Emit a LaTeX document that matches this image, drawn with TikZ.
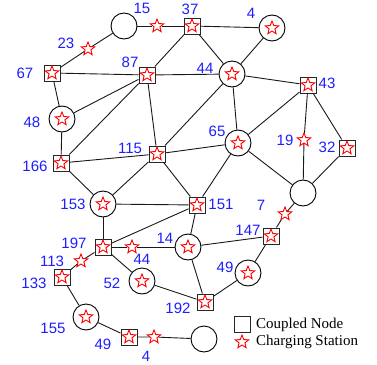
\documentclass[tikz,border=0pt]{standalone}
\usepackage{fontspec}
\setmainfont{Liberation Serif}
\newfontfamily\labfont{Liberation Sans}
\usetikzlibrary{shapes.geometric}
\definecolor{labblue}{RGB}{30,30,255}
\tikzset{
  sq/.style={draw=black!85, fill=white, minimum size=16pt, inner sep=0pt, line width=1pt},
  cir/.style={circle, draw=black, fill=white, minimum size=26pt, inner sep=0pt, line width=0.9pt},
  st/.style={star, star points=5, star point ratio=2.3, draw=red, fill=white, minimum size=14pt, inner sep=0pt, line width=0.9pt},
  lab/.style={text=labblue, font=\labfont\fontsize{15}{15}\selectfont, inner sep=0pt},
  edge/.style={draw=black!90, line width=0.9pt},
  leg/.style={font=\fontsize{15}{15}\selectfont, anchor=west, inner sep=0pt}
}
\begin{document}
\begin{tikzpicture}[x=1pt,y=-1pt]
\useasboundingbox (0,0) rectangle (377,364);
% nodes
\node[cir] (n15) at (124,26) {};
\node[sq] (n37) at (192,26) {};
\node[cir] (n4) at (272,28) {};
\node[st] (s1537) at (157,26) {};
\node[st] (n23) at (88,49) {};
\node[sq] (n67) at (52,73) {};
\node[sq] (n87) at (147,75) {};
\node[cir] (n44) at (232,74) {};
\node[sq] (n43) at (308,85) {};
\node[cir] (n48) at (62,119) {};
\node[cir] (n65) at (238,143) {};
\node[st] (n19) at (304,140) {};
\node[sq] (n32) at (347,148) {};
\node[sq] (n166) at (61,163) {};
\node[sq] (n115) at (157,154) {};
\node[cir] (nR) at (303,193) {};
\node[sq] (n151) at (197,205) {};
\node[cir] (n153) at (103,204) {};
\node[st] (n7) at (285,214) {};
\node[sq] (n147) at (271,236) {};
\node[cir] (n14) at (188,247) {};
\node[sq] (n197) at (103,247) {};
\node[st] (s44b) at (132,247) {};
\node[st] (n113) at (81,261) {};
\node[sq] (n133) at (62,277) {};
\node[cir] (n52) at (142,281) {};
\node[cir] (n49c) at (248,273) {};
\node[sq] (n192) at (205,302) {};
\node[cir] (n155) at (86,317) {};
\node[sq] (n49s) at (129,337) {};
\node[st] (s4b) at (154,337) {};
\node[cir] (nE) at (204,339) {};
% stars inside nodes
\foreach \n in {n37,n4,n67,n87,n44,n43,n48,n65,n32,n166,n115,n151,n153,n147,n14,n197,n133,n52,n49c,n192,n155,n49s}
  \node[st] at (\n.center) {};
% edges
\draw[edge] (n15) -- (s1537) -- (n37);
\draw[edge] (n15) -- (n23) -- (n67);
\draw[edge] (n37) -- (n4);
\draw[edge] (n37) -- (n44);
\draw[edge] (n4) -- (n44);
\draw[edge] (n87) -- (n37);
\draw[edge] (n67) -- (n87);
\draw[edge] (n67) -- (n48);
\draw[edge] (n48) -- (n87);
\draw[edge] (n48) -- (n166);
\draw[edge] (n87) -- (n44);
\draw[edge] (n87) -- (n166);
\draw[edge] (n87) -- (n115);
\draw[edge] (n44) -- (n43);
\draw[edge] (n44) -- (n65);
\draw[edge] (n44) -- (n115);
\draw[edge] (n43) -- (n65);
\draw[edge] (n43) -- (n19) -- (nR);
\draw[edge] (n43) -- (n32);
\draw[edge] (n32) -- (nR);
\draw[edge] (n65) -- (n115);
\draw[edge] (n65) -- (nR);
\draw[edge] (n65) -- (n151);
\draw[edge] (n115) -- (n166);
\draw[edge] (n115) -- (n153);
\draw[edge] (n115) -- (n151);
\draw[edge] (n166) -- (n153);
\draw[edge] (n153) -- (n151);
\draw[edge] (n153) -- (n197);
\draw[edge] (n197) -- (n151);
\draw[edge] (n197) -- (s44b) -- (n14);
\draw[edge] (n197) -- (n52);
\draw[edge] (n197) -- (n113) -- (n133);
\draw[edge] (n151) -- (n14);
\draw[edge] (n14) -- (n147);
\draw[edge] (n14) -- (n192);
\draw[edge] (n52) -- (n192);
\draw[edge] (n192) -- (n49c);
\draw[edge] (n49c) -- (n147);
\draw[edge] (n147) -- (n7) -- (nR);
\draw[edge] (n133) -- (n155);
\draw[edge] (n155) -- (n49s);
\draw[edge] (n49s) -- (s4b) -- (nE);
% labels
\node[lab] (l15) at (142,8) {15};
\node[lab] (l37) at (190,9) {37};
\node[lab] (l4) at (251,13) {4};
\node[lab] (l23) at (66,43) {23};
\node[lab] (l67) at (25,73) {67};
\node[lab] (l87) at (130,62) {87};
\node[lab] (l44) at (205,68) {44};
\node[lab] (l43) at (327,83) {43};
\node[lab] (l48) at (32,122) {48};
\node[lab] (l65) at (217,131) {65};
\node[lab] (l19) at (285,140) {19};
\node[lab] (l32) at (327,147) {32};
\node[lab] (l166) at (35,166) {166};
\node[lab] (l115) at (130,148) {115};
\node[lab] (l7) at (261,205) {7};
\node[lab] (l151) at (221,204) {151};
\node[lab] (l153) at (73,204) {153};
\node[lab] (l147) at (248,230) {147};
\node[lab] (l14) at (165,238) {14};
\node[lab] (l197) at (74,243) {197};
\node[lab] (l44b) at (142,259) {44};
\node[lab] (l113) at (52,261) {113};
\node[lab] (l133) at (34,283) {133};
\node[lab] (l52) at (112,283) {52};
\node[lab] (l49c) at (225,267) {49};
\node[lab] (l192) at (178,308) {192};
\node[lab] (l155) at (53,328) {155};
\node[lab] (l49s) at (103,344) {49};
\node[lab] (l4b) at (146,356) {4};
% legend
\node[sq] (legsq) at (242,324.5) {};
\node[st] (legst) at (242,342) {};
\node[leg] (legt1) at (256,325) {Coupled Node};
\node[leg] (legt2) at (256,342) {Charging Station};
\end{tikzpicture}
\end{document}
